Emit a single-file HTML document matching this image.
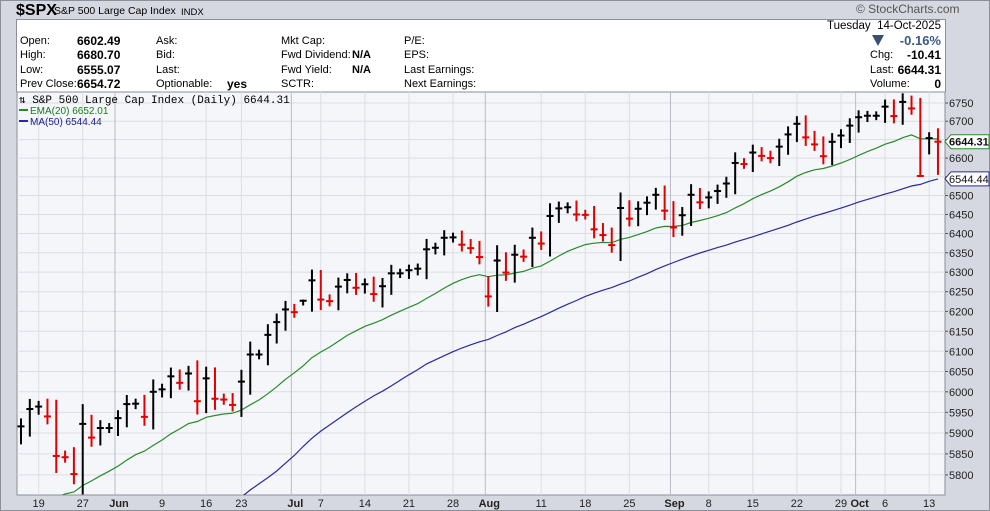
<!DOCTYPE html>
<html><head><meta charset="utf-8"><style>
html,body{margin:0;width:990px;height:511px;overflow:hidden}
body{background:#d5d8e0;font-family:"Liberation Sans",sans-serif;position:relative}
.t{position:absolute;font-size:11px;line-height:13px;color:#000;white-space:nowrap}
.b{font-weight:bold;font-size:12px}
</style></head><body>
<div style="position:absolute;left:0;top:0;width:990px;height:511px;border:1px solid #8a8f9a;box-sizing:border-box"></div>
<div class="t" style="left:16px;top:2px;font-size:16px;line-height:18px;font-weight:bold">$SPX</div>
<div class="t" style="left:54px;top:5px;font-size:10.5px">S&amp;P 500 Large Cap Index</div>
<div class="t" style="left:181px;top:6px;font-size:9.5px">INDX</div>
<div class="t" style="left:856px;top:3px;font-size:12px;color:#555">© StockCharts.com</div>
<div style="position:absolute;left:16px;top:19px;width:930px;height:73px;background:#fff;border:1px solid #8a8f9a;border-bottom:none;box-sizing:border-box"></div>
<div class="t" style="left:20px;top:35px">Open:</div><div class="t b" style="left:77px;top:35px">6602.49</div>
<div class="t" style="left:20px;top:49px">High:</div><div class="t b" style="left:77px;top:49px">6680.70</div>
<div class="t" style="left:20px;top:64px">Low:</div><div class="t b" style="left:77px;top:64px">6555.07</div>
<div class="t" style="left:20px;top:78px">Prev Close:</div><div class="t b" style="left:77px;top:78px">6654.72</div>
<div class="t" style="left:156px;top:35px">Ask:</div><div class="t" style="left:156px;top:49px">Bid:</div><div class="t" style="left:156px;top:64px">Last:</div><div class="t" style="left:156px;top:78px">Optionable:</div><div class="t b" style="left:227px;top:78px">yes</div>
<div class="t" style="left:281px;top:35px">Mkt Cap:</div><div class="t" style="left:281px;top:49px">Fwd Dividend:</div><div class="t b" style="left:352px;top:49px;font-size:11px">N/A</div>
<div class="t" style="left:281px;top:64px">Fwd Yield:</div><div class="t b" style="left:352px;top:64px;font-size:11px">N/A</div><div class="t" style="left:281px;top:78px">SCTR:</div>
<div class="t" style="left:404px;top:35px">P/E:</div><div class="t" style="left:404px;top:49px">EPS:</div><div class="t" style="left:404px;top:64px">Last Earnings:</div><div class="t" style="left:404px;top:78px">Next Earnings:</div>
<div class="t" style="right:49px;top:20px;font-size:11.5px">Tuesday&nbsp; 14-Oct-2025</div>
<div class="t" style="left:872px;top:35px;width:0;height:0;border-left:6px solid transparent;border-right:6px solid transparent;border-top:11px solid #3a5070"></div>
<div class="t" style="right:49px;top:33px;font-size:13px;line-height:15px;font-weight:bold;color:#3a5a88">-0.16%</div>
<div class="t" style="left:870px;top:49px">Chg:</div><div class="t b" style="right:49px;top:49px">-10.41</div>
<div class="t" style="left:870px;top:64px">Last:</div><div class="t b" style="right:49px;top:64px">6644.31</div>
<div class="t" style="left:870px;top:78px">Volume:</div><div class="t b" style="right:49px;top:78px">0</div>
<svg id="s" width="990" height="511" style="position:absolute;left:0;top:0;display:block"></svg>
<script>
const pre=[5767,5776,5712,5693,5581,5612,5633,5671,5396,5074,5062,4982,5457,5268,5363,5406,5397,5276,5282,5158,5287,5376,5485,5525,5529,5561,5569,5604,5686,5650,5607,5631,5664,5660,5844,5886,5892];
const C=[5916,5958,5964,5940,5845,5842,5802,5922,5889,5912,5912,5936,5970,5971,5939,6000,6006,6038,6022,6045,5977,6033,5983,5981,5968,6025,6092,6092,6141,6173,6205,6198,6227,6279,6230,6226,6263,6280,6260,6269,6244,6264,6297,6297,6305,6309,6359,6363,6389,6390,6371,6362,6339,6238,6330,6299,6345,6340,6389,6374,6446,6466,6469,6450,6449,6411,6396,6370,6467,6439,6465,6481,6502,6460,6416,6448,6502,6482,6495,6512,6532,6587,6584,6615,6606,6600,6631,6664,6693,6656,6637,6605,6644,6661,6688,6711,6715,6715,6740,6714,6753,6735,6552,6654,6644.31];
const Y=p=>103+2452*(Math.log(6750)-Math.log(p));
const X=i=>21+i*8.817;
let s='';
const T=92,B=495,L=17,R=945;
s+=`<rect x="${L}" y="${T}" width="${R-L}" height="${B-T}" fill="#f5f6fa" stroke="#8a8f9a"/>`;
for(let p=5800;p<=6750;p+=50){const y=Y(p);s+=`<line x1="${L}" x2="${R}" y1="${y}" y2="${y}" stroke="#dcdee6"/><line x1="${R}" x2="${R+3}" y1="${y}" y2="${y}" stroke="#555"/>`;if(p!=6650&&p!=6550)s+=`<text x="949" y="${y+4}" font-size="11" fill="#222" font-family="Liberation Sans">${p}</text>`;}
const lab=[[2,'19'],[7,'27'],[11,'Jun',1],[16,'9'],[21,'16'],[25,'23'],[31,'Jul',1],[34,'7'],[39,'14'],[44,'21'],[49,'28'],[53,'Aug',1],[59,'11'],[64,'18'],[69,'25'],[74,'Sep',1],[78,'8'],[83,'15'],[88,'22'],[93,'29'],[95,'Oct',1],[98,'6'],[103,'13']];
for(const [i,t,m] of lab){const x=X(i)-(m?3:0);s+=`<line x1="${x}" x2="${x}" y1="${T}" y2="${B}" stroke="${m?'#b8bcc6':'#dcdee6'}"/>`;s+=`<text x="${x+(m?4:0)}" y="507" text-anchor="middle" font-size="11" ${m?'font-weight="bold"':''} fill="#222" font-family="Liberation Sans">${t}</text>`;}
const all=pre.concat(C);const n=pre.length;
let ema=[],ma=[];let e=all[0];
for(let k=0;k<all.length;k++){e=k==0?all[0]:e+(all[k]-e)*2/21;ema.push(e);if(k>=49){let a=0;for(let j=k-49;j<=k;j++)a+=all[j];ma.push([k,a/50]);}}
s+=`<clipPath id="c"><rect x="${L}" y="${T}" width="${R-L}" height="${B-T}"/></clipPath><g clip-path="url(#c)">`;
let pe='',pm='';
for(let i=0;i<C.length;i++){pe+=(i?'L':'M')+X(i).toFixed(1)+','+Y(ema[i+n]).toFixed(1);}
let f=1;for(const [k,v] of ma){const i=k-n;if(i<0)continue;pm+=(f?'M':'L')+X(i).toFixed(1)+','+Y(v).toFixed(1);f=0;}
s+=`<path d="${pe}" fill="none" stroke="#2a8a2a" stroke-width="1.2"/><path d="${pm}" fill="none" stroke="#2a2aa0" stroke-width="1.2"/>`;
const ex={53:[6290,6212],104:[6680.7,6555],103:[6670,6610],102:[6764,6551],41:[6285,6210],32:[6230,6215]};
for(let i=0;i<C.length;i++){const c=C[i],p=i?C[i-1]:5892;const o=p;let h=Math.max(o,c)+Math.abs(c-o)*0.3+12,l=Math.min(o,c)-Math.abs(c-o)*0.3-12;if(ex[i]){h=ex[i][0];l=ex[i][1];}
const col=c<p?'#e00000':'#000';const x=X(i);
s+=`<line x1="${x}" x2="${x}" y1="${Y(h)}" y2="${Y(l)}" stroke="${col}" stroke-width="2"/><line x1="${x-3.5}" x2="${x+3.5}" y1="${Y(c)}" y2="${Y(c)}" stroke="${col}" stroke-width="2"/>`;}
s+='</g>';
function tag(v,y,col,bold){return `<path d="M${R},${y} L${R+6},${y-7} L989,${y-7} L989,${y+7} L${R+6},${y+7} Z" fill="#fff" stroke="${col}"/><text x="949" y="${y+4}" font-size="11" ${bold?'font-weight="bold"':''} fill="#111" font-family="Liberation Sans">${v}</text>`;}
s+=tag('6644.31',Y(6644.31),'#2a8a2a',1)+tag('6544.44',Y(6544.44),'#2a2aa0',0);
s+=`<text x="19" y="103" font-size="11" fill="#000" font-family="Liberation Mono,monospace">⇅ S&amp;P 500 Large Cap Index (Daily) 6644.31</text>`;
s+=`<line x1="19" x2="28" y1="110" y2="110" stroke="#2a8a2a" stroke-width="2"/><text x="30" y="114" font-size="10" fill="#1a7a1a" font-family="Liberation Sans">EMA(20) 6652.01</text>`;
s+=`<line x1="19" x2="28" y1="121" y2="121" stroke="#2a2aa0" stroke-width="2"/><text x="30" y="125" font-size="10" fill="#1a1a90" font-family="Liberation Sans">MA(50) 6544.44</text>`;
document.getElementById('s').innerHTML=s;
</script>
</body></html>
